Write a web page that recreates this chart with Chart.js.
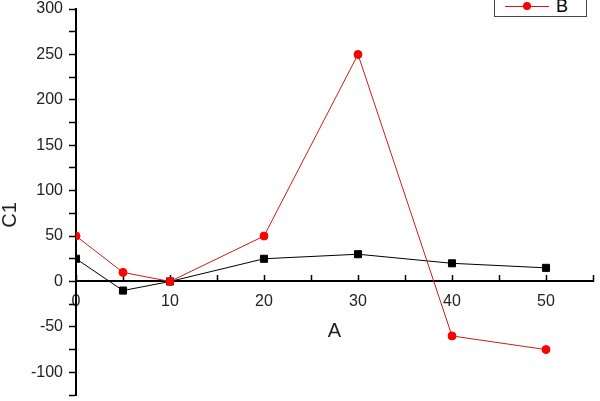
<!DOCTYPE html>
<html>
<head>
<meta charset="utf-8">
<script src="https://cdn.jsdelivr.net/npm/chart.js@4.4.1/dist/chart.umd.min.js"></script>
<style>
  html, body { margin: 0; padding: 0; background: #fff; }
  #wrap { position: relative; width: 600px; height: 401px; overflow: hidden; }
  #legend {
    position: absolute; left: 494px; top: -23px; width: 91px;
    border: 1px solid #444; background: #fff;
    font: 18px "Liberation Sans", Arial, sans-serif; color: #000;
  }
  #legend .row { position: relative; height: 19px; }
  #legend .ln { position: absolute; left: 10px; top: 9px; width: 44px; height: 1px; }
  #legend .mk { position: absolute; left: 28px; top: 5px; width: 8px; height: 8px; }
  #legend .tx { position: absolute; left: 61px; top: 0; line-height: 19px; }
</style>
</head>
<body>
<div id="wrap">
  <canvas id="chart" width="600" height="401"></canvas>
  <div id="legend"></div>
</div>
<script>
(() => {
  const xValues = [0, 5, 10, 20, 30, 40, 50];
  const seriesC1 = [25, -10, 0, 25, 30, 20, 15];
  const seriesB = [50, 10, 0, 50, 250, -60, -75];
  const xTickLabels = [0, 10, 20, 30, 40, 50];
  const yTickLabels = [-100, -50, 0, 50, 100, 150, 200, 250, 300];

  const font = '"Liberation Sans", Arial, sans-serif';
  const toPoints = ys => xValues.map((x, i) => ({ x, y: ys[i] }));

  const datasets = [
    {
      label: 'B',
      data: toPoints(seriesB),
      borderColor: '#d01a1a',
      backgroundColor: '#ff0000',
      pointBorderColor: '#ff0000',
      borderWidth: 1,
      pointStyle: 'circle',
      pointRadius: 4,
      pointBorderWidth: 1,
      tension: 0,
    },
    {
      label: 'C1',
      data: toPoints(seriesC1),
      borderColor: '#000',
      backgroundColor: '#000',
      pointBorderColor: '#000',
      borderWidth: 1,
      pointStyle: 'rect',
      pointRadius: 5,
      pointBorderWidth: 1,
      tension: 0,
    },
  ];

  // Origin puts the y title a bit below the middle of the axis
  const shiftYTitle = {
    id: 'shiftYTitle',
    afterLayout(chart) {
      const y = chart.scales.y;
      if (y._titleShifted) return;
      const draw = y.drawTitle.bind(y);
      y.drawTitle = function () {
        const t = this.top, b = this.bottom;
        this.top += 13; this.bottom += 13;
        draw();
        this.top = t; this.bottom = b;
      };
      y._titleShifted = true;
    }
  };

  new Chart(document.getElementById('chart'), {
    type: 'line',
    data: { datasets },
    plugins: [shiftYTitle],
    options: {
      responsive: false,
      animation: false,
      layout: { padding: { top: 9, right: 7, bottom: 6, left: 0 } },
      scales: {
        x: {
          type: 'linear',
          position: { y: 0 },
          min: 0,
          max: 55,
          grid: { drawOnChartArea: false, tickLength: -7, tickColor: '#000', tickWidth: 1.5 },
          border: { color: '#000', width: 2 },
          ticks: {
            stepSize: 5,
            autoSkip: false,
            maxRotation: 0,
            padding: 18,
            color: '#222',
            font: { family: font, size: 16 },
            callback: v => xTickLabels.includes(v) ? String(v) : '',
          },
          title: { display: true, text: 'A', color: '#222', font: { family: font, size: 20 }, padding: { top: -10, bottom: 0 } },
          afterFit: s => { s.paddingLeft = 0; s.paddingRight = 0; },
        },
        y: {
          min: -125,
          max: 300,
          grid: { drawOnChartArea: false, tickLength: 7, tickColor: '#000', tickWidth: 1.5 },
          border: { color: '#000', width: 2 },
          ticks: {
            stepSize: 25,
            autoSkip: false,
            padding: 6,
            color: '#222',
            font: { family: font, size: 16 },
            callback: v => yTickLabels.includes(v) ? String(v) : '',
          },
          title: { display: true, text: 'C1', color: '#222', font: { family: font, size: 20 }, padding: { top: -2, bottom: 0 } },
          afterFit: s => { s.width = 76; s.paddingTop = 0; s.paddingBottom = 0; },
        },
      },
      plugins: {
        legend: { display: false },
        tooltip: { enabled: false },
      },
    },
  });

  // Origin-style legend box, top row cut off by the page edge
  const legend = document.getElementById('legend');
  [datasets[1], datasets[0]].forEach(ds => {
    const row = document.createElement('div');
    row.className = 'row';
    const round = ds.pointStyle === 'circle' ? 'border-radius:50%;' : '';
    row.innerHTML =
      `<span class="ln" style="background:${ds.borderColor}"></span>` +
      `<span class="mk" style="background:${ds.backgroundColor};${round}"></span>` +
      `<span class="tx">${ds.label}</span>`;
    legend.appendChild(row);
  });
})();
</script>
</body>
</html>
